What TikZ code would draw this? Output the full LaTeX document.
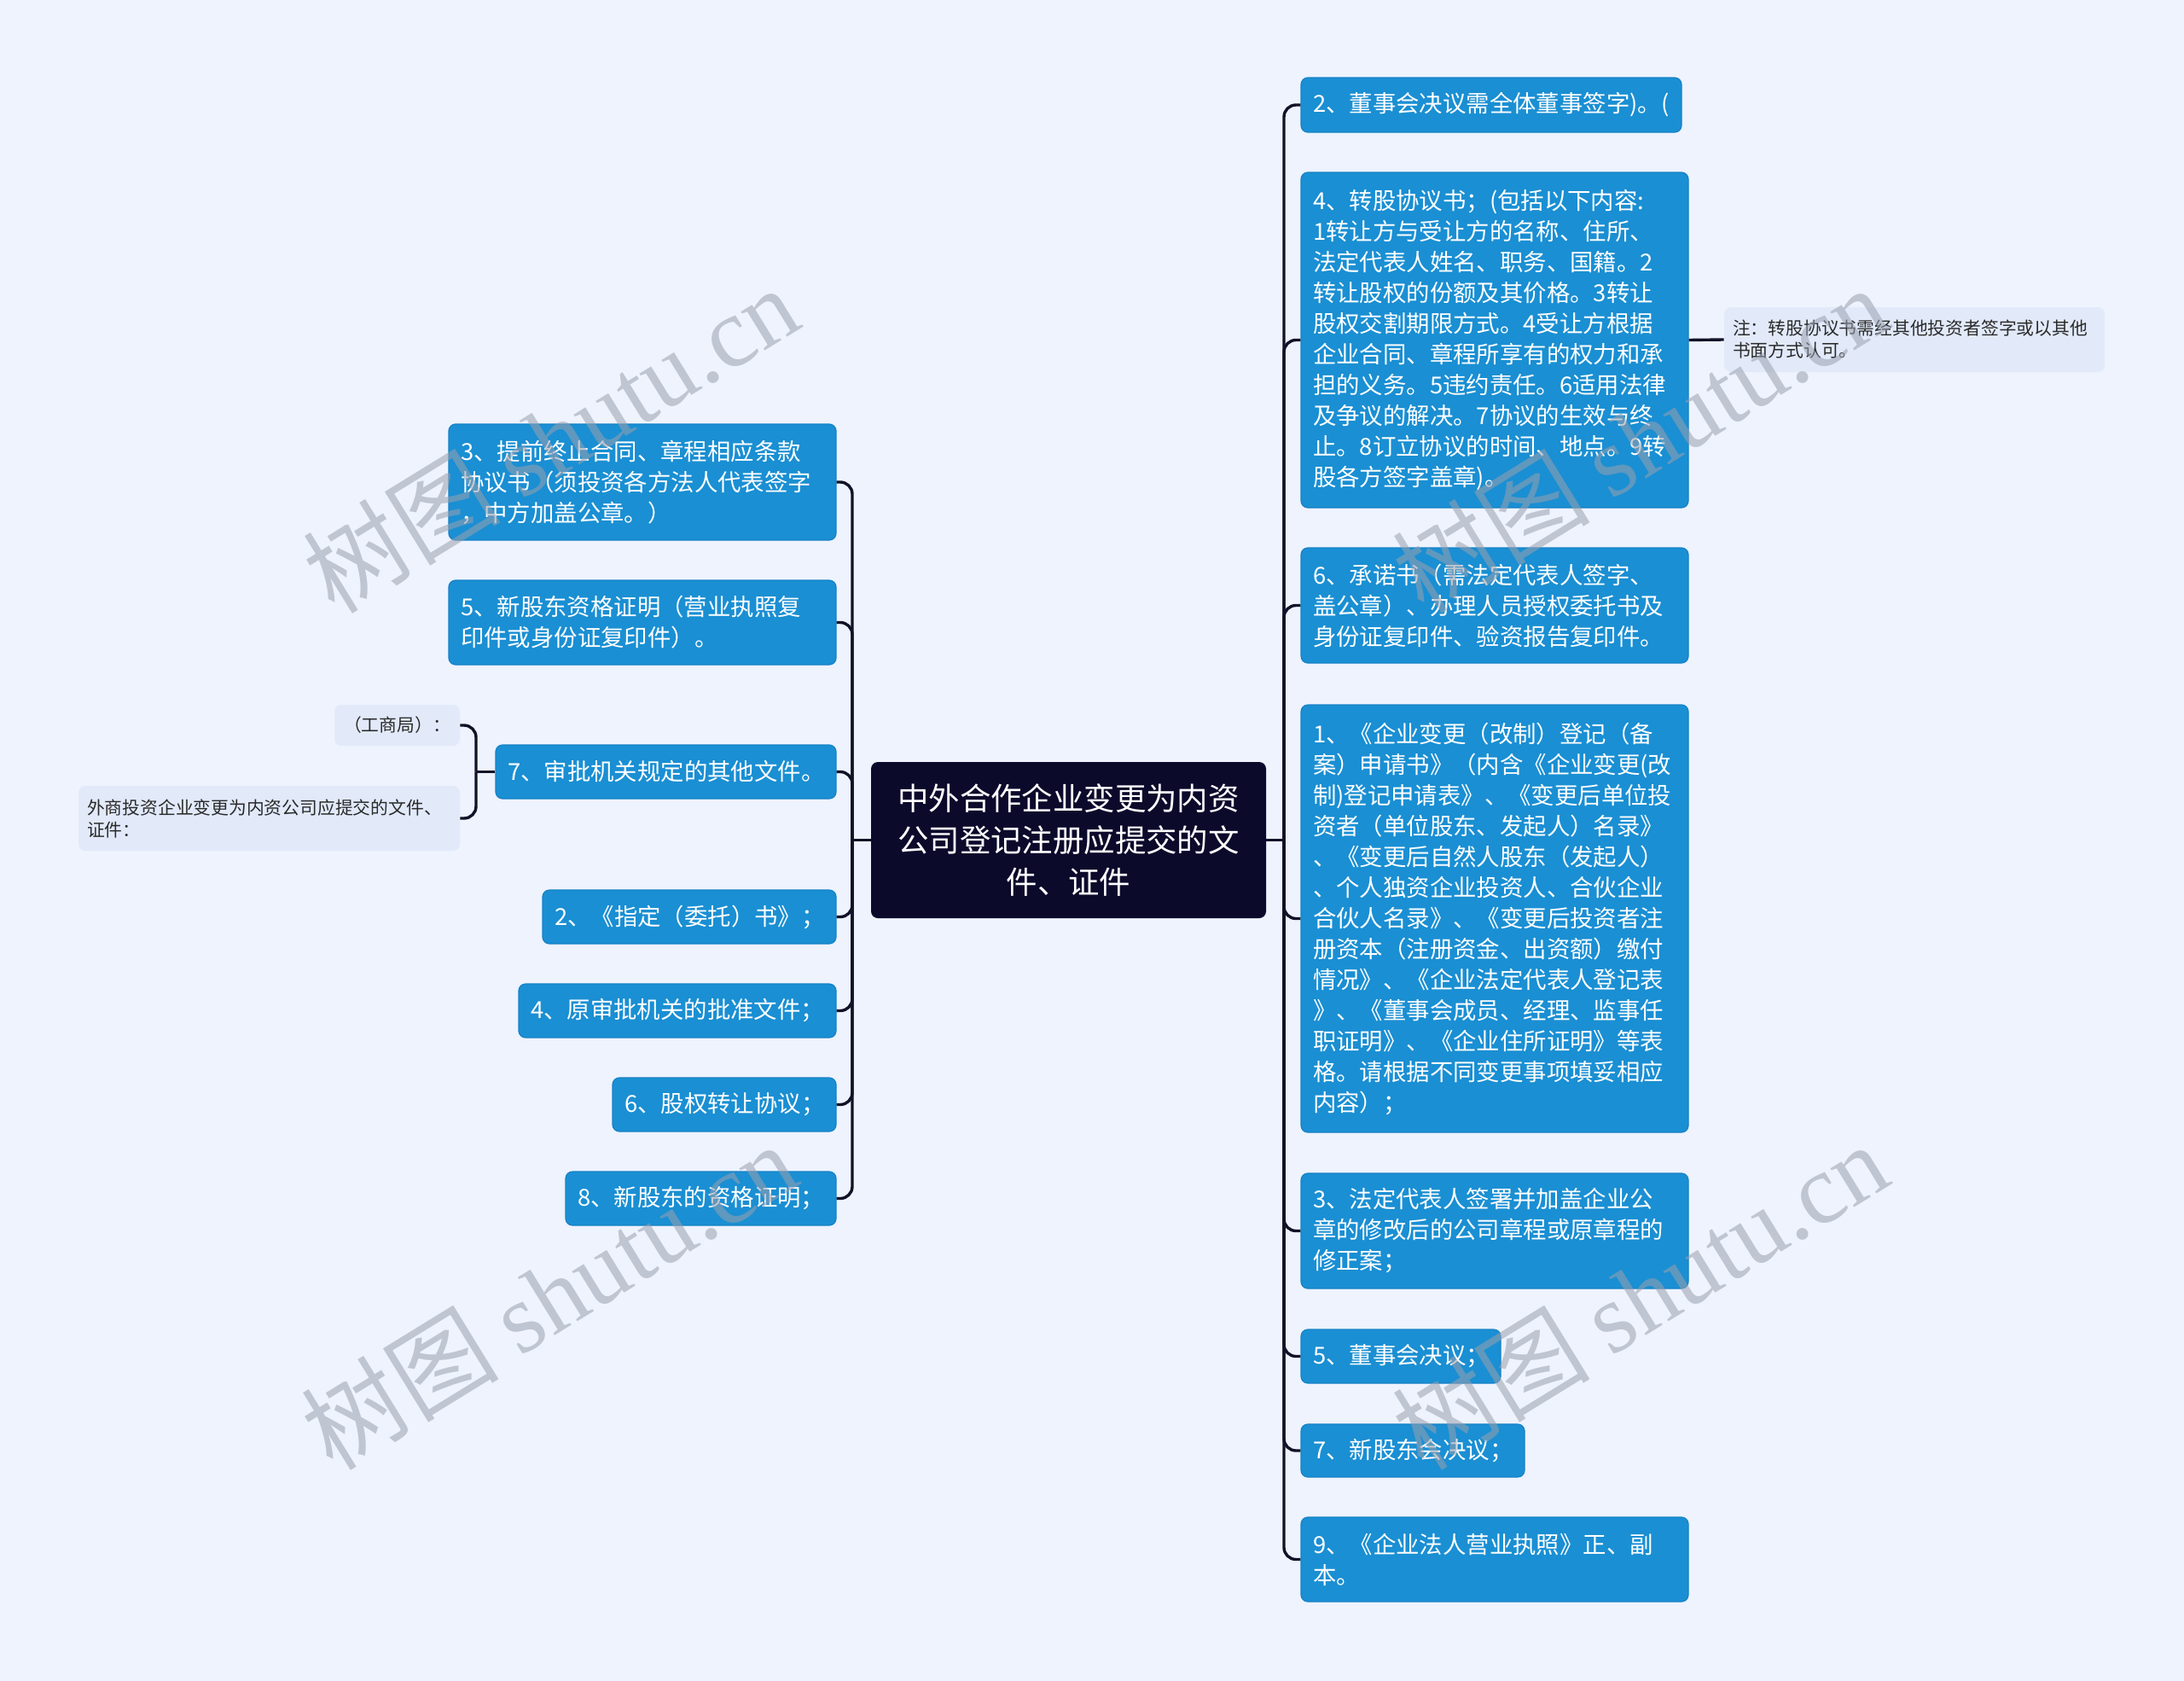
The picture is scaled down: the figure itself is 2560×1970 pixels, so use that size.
\documentclass[tikz,border=0pt]{standalone}
\usepackage{fontspec}
\setmainfont{Noto Sans CJK SC}
\newfontfamily\wmlatin{Liberation Serif}
\newfontfamily\wmcjk{Noto Sans CJK SC}
\definecolor{bgc}{HTML}{EEF3FD}
\definecolor{boxc}{HTML}{1A8FD3}
\definecolor{boxl}{HTML}{1682C6}
\definecolor{ctrc}{HTML}{0C0A2B}
\definecolor{notec}{HTML}{E2EAFA}
\definecolor{linec}{HTML}{111127}
\definecolor{wmc}{HTML}{9AA0AE}
\definecolor{notet}{HTML}{2A2A2A}
\tikzset{
  bbox/.style={draw=boxl, line width=0.6pt, fill=boxc, rounded corners=4pt, text=white,
    align=left, inner xsep=7pt, inner ysep=0pt,
    font=\fontsize{13.7}{18}\selectfont},
  ctr/.style={fill=ctrc, rounded corners=4pt, text=white, align=center,
    inner sep=0pt, font=\fontsize{18.2}{24.5}\selectfont},
  nbox/.style={fill=notec, rounded corners=4pt, text=notet, align=left,
    inner xsep=5pt, inner ysep=0pt, font=\fontsize{10.4}{13}\selectfont},
  conn/.style={draw=linec, line width=1.7pt, rounded corners=7pt},
  wm/.style={text=wmc, text opacity=0.55, inner sep=0pt}
}
\begin{document}
\begin{tikzpicture}[x=0.5pt,y=-0.5pt]
\fill[bgc] (0,0) rectangle (2560,1970);
\useasboundingbox (0,0) rectangle (2560,1970);

% center
\node[ctr, minimum width=231.5pt, minimum height=91.5pt] (c) at (1252.5,984.5)
  {中外合作企业变更为内资\\公司登记注册应提交的文\\件、证件};

% right column
\node[bbox, minimum width=223pt, minimum height=32pt, text width=209pt] (r2) at (1748,123)
  {2、董事会决议需全体董事签字)。(};
\node[bbox, minimum width=227pt, minimum height=196.5pt, text width=213pt] (r4) at (1752,398.5)
  {4、转股协议书；(包括以下内容:\\1转让方与受让方的名称、住所、\\法定代表人姓名、职务、国籍。2\\转让股权的份额及其价格。3转让\\股权交割期限方式。4受让方根据\\企业合同、章程所享有的权力和承\\担的义务。5违约责任。6适用法律\\及争议的解决。7协议的生效与终\\止。8订立协议的时间、地点。9转\\股各方签字盖章)。};
\node[nbox, minimum width=223pt, minimum height=38pt, text width=213pt] (rn) at (2244,398)
  {注：转股协议书需经其他投资者签字或以其他\\书面方式认可。};
\node[bbox, minimum width=227pt, minimum height=67.5pt, text width=213pt] (r6) at (1752,709.5)
  {6、承诺书（需法定代表人签字、\\盖公章）、办理人员授权委托书及\\身份证复印件、验资报告复印件。};
\node[bbox, minimum width=227pt, minimum height=250.5pt, text width=213pt] (r1) at (1752,1076.5)
  {1、《企业变更（改制）登记（备\\案）申请书》（内含《企业变更(改\\制)登记申请表》、《变更后单位投\\资者（单位股东、发起人）名录》\\、《变更后自然人股东（发起人）\\、个人独资企业投资人、合伙企业\\合伙人名录》、《变更后投资者注\\册资本（注册资金、出资额）缴付\\情况》、《企业法定代表人登记表\\》、《董事会成员、经理、监事任\\职证明》、《企业住所证明》等表\\格。请根据不同变更事项填妥相应\\内容）；};
\node[bbox, minimum width=227pt, minimum height=67.5pt, text width=213pt] (r3) at (1752,1442.5)
  {3、法定代表人签署并加盖企业公\\章的修改后的公司章程或原章程的\\修正案；};
\node[bbox, minimum width=117pt, minimum height=31.5pt, text width=103pt] (r5) at (1642,1589.5)
  {5、董事会决议；};
\node[bbox, minimum width=131pt, minimum height=31pt, text width=117pt] (r7) at (1656,1700)
  {7、新股东会决议；};
\node[bbox, minimum width=227pt, minimum height=49.5pt, text width=213pt] (r9) at (1752,1827.5)
  {9、《企业法人营业执照》正、副\\本。};

% left column
\node[bbox, minimum width=227pt, minimum height=68pt, text width=213pt] (l3) at (753,565)
  {3、提前终止合同、章程相应条款\\协议书（须投资各方法人代表签字\\，中方加盖公章。）};
\node[bbox, minimum width=227pt, minimum height=49.5pt, text width=213pt] (l5) at (753,729.5)
  {5、新股东资格证明（营业执照复\\印件或身份证复印件）。};
\node[bbox, minimum width=199.5pt, minimum height=31.5pt, text width=185.5pt] (l7) at (780.5,904.5)
  {7、审批机关规定的其他文件。};
\node[bbox, minimum width=172pt, minimum height=31.5pt, text width=158pt] (l2) at (808,1074.5)
  {2、《指定（委托）书》；};
\node[bbox, minimum width=186pt, minimum height=31.5pt, text width=172pt] (l4) at (794,1184.5)
  {4、原审批机关的批准文件；};
\node[bbox, minimum width=131pt, minimum height=31.5pt, text width=117pt] (l6) at (849,1294.5)
  {6、股权转让协议；};
\node[bbox, minimum width=158.5pt, minimum height=31.5pt, text width=144.5pt] (l8) at (821.5,1404.5)
  {8、新股东的资格证明；};

\node[nbox, align=center, minimum width=73.5pt, minimum height=24pt] (ln1) at (465.5,850)
  {（工商局）：};
\node[nbox, minimum width=223.5pt, minimum height=38pt, text width=213.5pt] (ln2) at (315.5,959)
  {外商投资企业变更为内资公司应提交的文件、\\证件：};

% connectors
\coordinate (rj) at (1505,984.5);
\coordinate (lj) at (999,984.5);
\coordinate (lk) at (558,904.5);
\draw[conn] (c.east) -- (rj);
\draw[conn] (c.west) -- (lj);
\foreach \n in {r2,r4,r6,r1,r3,r5,r7,r9}{\draw[conn] (rj) |- (\n.west);}
\foreach \n in {l3,l5,l7,l2,l4,l6,l8}{\draw[conn] (lj) |- (\n.east);}
\draw[conn] (r4.east) -- (rn.west);
\draw[conn] (l7.west) -- (lk);
\draw[conn] (lk) |- (ln1.east);
\draw[conn] (lk) |- (ln2.east);

% watermarks
\foreach \p/\nm in {{(645,514)}/w1,{(643,1518)}/w2,{(1922,514)}/w3,{(1922,1518)}/w4}{
  \node[wm, rotate=31.6] (\nm) at \p {\fontsize{58}{58}\selectfont\wmcjk 树图 \wmlatin shutu.cn};
}
\end{tikzpicture}
\end{document}
